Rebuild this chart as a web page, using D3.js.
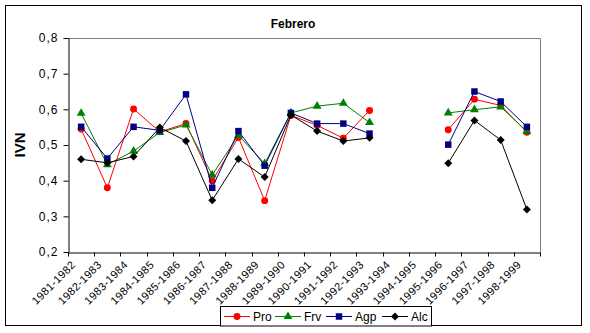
<!DOCTYPE html>
<html><head><meta charset="utf-8">
<script src="https://cdn.jsdelivr.net/npm/d3@7"></script>
<style>body{margin:0;background:#fff}svg{display:block}text{font-family:Arial,"Liberation Sans",sans-serif}</style>
</head><body><svg id="c" width="590" height="333"></svg>
<script>
const categories = ["1981-1982","1982-1983","1983-1984","1984-1985","1985-1986","1986-1987","1987-1988","1988-1989","1989-1990","1990-1991","1991-1992","1992-1993","1993-1994","1994-1995","1995-1996","1996-1997","1997-1998","1998-1999"];
const pro = [0.545,0.380,0.601,0.537,0.560,0.400,0.521,0.344,0.583,0.555,0.519,0.597,null,null,0.543,0.628,0.611,0.536];
const frv = [0.589,0.445,0.483,0.535,0.556,0.416,0.527,0.448,0.590,0.609,0.617,0.563,null,null,0.590,0.599,0.607,0.538];
const agp = [0.551,0.462,0.551,0.541,0.642,0.380,0.539,0.442,0.590,0.560,0.560,0.532,null,null,0.501,0.650,0.622,0.551];
const alc = [0.460,0.450,0.468,0.549,0.511,0.345,0.461,0.410,0.584,0.539,0.511,0.520,null,null,0.449,0.569,0.514,0.319];
const yTicks = [0.2,0.3,0.4,0.5,0.6,0.7,0.8];
const seriesNames = ["Pro","Frv","Agp","Alc"];
const seriesColors = ["#FF0000","#008000","#000080","#000000"];
const seriesData = [pro,frv,agp,alc];
const title = "Febrero";
const yLabel = "IVN";

const svg = d3.select("#c");
const L=68,R=540,T=38,B=252;
svg.append("rect").attr("x",5.5).attr("y",5.5).attr("width",576).attr("height",320).attr("fill","#fff").attr("stroke","#000");

const x = d3.scaleBand().domain(categories).range([L,R]);
const y = d3.scaleLinear().domain([0.2,0.8]).range([B,T]);

svg.append("path").attr("d",`M${L},${T+0.5}H${R+0.5}V${B}`).attr("fill","none").attr("stroke","#808080");

const ya = svg.append("g").attr("transform",`translate(${L+0.5},0)`)
  .call(d3.axisLeft(y).tickValues(yTicks).tickSize(5).tickSizeOuter(0).tickFormat(d=>d3.format(".1f")(d).replace(".",",")));
ya.select(".domain").attr("stroke","#000");
ya.selectAll(".tick line").attr("stroke","#000");
ya.selectAll(".tick text").attr("font-size","12px").attr("fill","#000").attr("x",-10).attr("letter-spacing","1px").attr("font-family","Arial, 'Liberation Sans', sans-serif");

const xa = svg.append("g").attr("transform",`translate(0,${B+0.5})`)
  .call(d3.axisBottom(x).tickSize(0).tickSizeOuter(0));
xa.select(".domain").attr("stroke","#000");
xa.selectAll(".tick text").remove();
const bounds = categories.map(c=>x(c)).concat([R]);
xa.selectAll(".bt").data(bounds).enter().append("line").attr("class","bt")
  .attr("x1",d=>Math.round(d)+0.5).attr("x2",d=>Math.round(d)+0.5).attr("y1",0).attr("y2",4).attr("stroke","#000");
xa.selectAll(".xl").data(categories).enter().append("text").attr("class","xl")
  .attr("transform",d=>`translate(${x(d)+x.bandwidth()/2-5},${13}) rotate(-45)`)
  .attr("text-anchor","end").attr("font-size","11px").attr("letter-spacing","0.4px").attr("fill","#000").text(d=>d);

const line = d3.line().defined(d=>d.v!=null).x(d=>x(d.c)+x.bandwidth()/2).y(d=>y(d.v));
const diamond = {draw(ctx,size){const r=Math.sqrt(size/2);ctx.moveTo(0,-r);ctx.lineTo(r,0);ctx.lineTo(0,r);ctx.lineTo(-r,0);ctx.closePath();}};
const sym = [d3.symbolCircle,d3.symbolTriangle,d3.symbolSquare,diamond];
const symSize = [38,34,42,32];
seriesData.forEach((arr,i)=>{
  const pts = arr.map((v,j)=>({c:categories[j],v}));
  svg.append("path").datum(pts).attr("d",line).attr("fill","none").attr("stroke",seriesColors[i]).attr("stroke-width",1);
  svg.append("g").selectAll("path").data(pts.filter(p=>p.v!=null)).enter().append("path")
    .attr("d",d3.symbol().type(sym[i]).size(symSize[i]))
    .attr("transform",d=>`translate(${x(d.c)+x.bandwidth()/2},${y(d.v)})`)
    .attr("fill",seriesColors[i]);
});

svg.append("text").attr("x",293).attr("y",28).attr("text-anchor","middle").attr("font-size","12px").attr("font-weight","bold").text(title);
svg.append("text").attr("transform",`translate(25,145) rotate(-90)`).attr("text-anchor","middle").attr("font-size","15px").attr("font-weight","bold").text(yLabel);

const lg = svg.append("g");
lg.append("rect").attr("x",220.5).attr("y",306.5).attr("width",211).attr("height",19.5).attr("fill","#fff").attr("stroke","#000");
const legX = [224,275,326,382];
seriesNames.forEach((n,i)=>{
  const g = lg.append("g").attr("transform",`translate(${legX[i]},316)`);
  g.append("line").attr("x1",0).attr("x2",26).attr("y1",0.5).attr("y2",0.5).attr("stroke",seriesColors[i]);
  g.append("path").attr("d",d3.symbol().type(sym[i]).size(symSize[i])).attr("transform","translate(13,0.5)").attr("fill",seriesColors[i]);
  g.append("text").attr("x",29).attr("y",4.5).attr("font-size","12px").text(n);
});
</script></body></html>
